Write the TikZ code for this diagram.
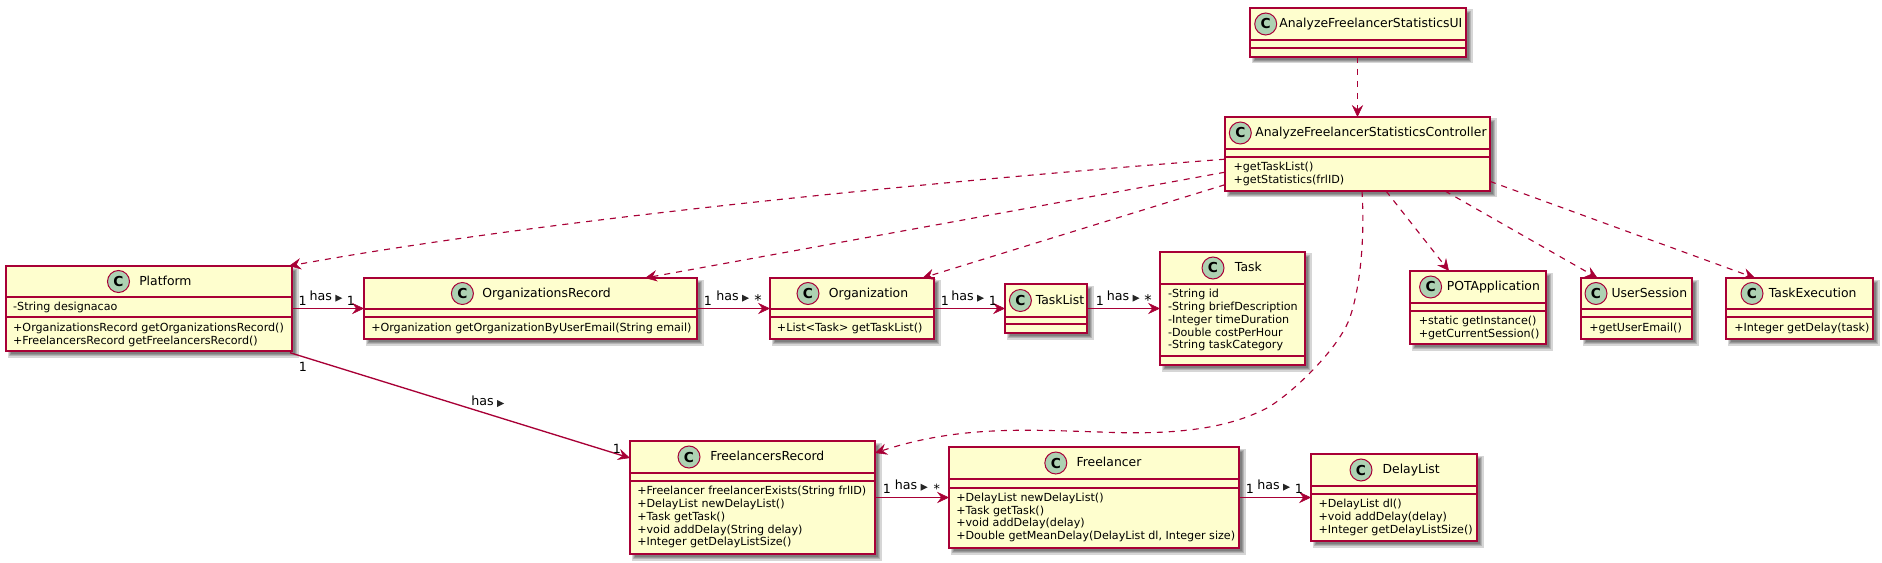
\documentclass[tikz,border=0pt]{standalone}
\usepackage{fontspec}
\setmainfont{DejaVu Sans}
\usetikzlibrary{arrows.meta,calc}
\definecolor{umlborder}{HTML}{A80036}
\definecolor{umlfill}{HTML}{FEFECE}
\definecolor{umlcirc}{HTML}{ADD1B2}
\tikzset{
  x=0.75pt,y=-0.75pt,
  umlhead/.tip={Stealth[length=9pt,width=8.5pt,inset=3.2pt,fill=umlborder,line width=0.4pt,sep=0pt]},
  classbox/.style={draw=umlborder,fill=umlfill,line width=1.2pt,inner sep=0pt,outer sep=0pt},
  classline/.style={draw=umlborder,line width=1.2pt},
  shadowlayer/.style={fill=black,fill opacity=0.16,draw=none},
  circ/.style={circle,draw=umlborder,fill=umlcirc,line width=0.75pt,minimum size=16.5pt,inner sep=0pt,font=\fontsize{10.3pt}{12pt}\bfseries},
  ctitle/.style={anchor=west,inner sep=0pt,font=\fontsize{9.3pt}{11pt}\selectfont,text height=7.5pt,text depth=1.9pt},
  member/.style={anchor=west,inner sep=0pt,font=\fontsize{8.35pt}{10pt}\selectfont,text height=6.6pt,text depth=1.7pt},
  lab/.style={anchor=west,inner sep=0pt,font=\fontsize{9.5pt}{11pt}\selectfont,text height=7pt,text depth=1.9pt},
  mult/.style={anchor=center,inner sep=0pt,font=\fontsize{9.5pt}{11pt}\selectfont,text height=7pt,text depth=0pt},
  dep/.style={draw=umlborder,line width=0.85pt,dash pattern=on 4.5pt off 4.5pt,-umlhead},
  assoc/.style={draw=umlborder,line width=1pt,-umlhead},
}
\newcommand{\ClassBox}[9]{%
  \foreach \g in {2.5,1.2,0,-1.2}{%
    \fill[shadowlayer] (#2+4-\g,#3+4-\g) rectangle (#4+4+\g,#5+4+\g);}
  \pgfmathsetlengthmacro{\bw}{(#4-#2)*0.75}%
  \pgfmathsetlengthmacro{\bh}{(#5-#3)*0.75}%
  \node[classbox,minimum width=\bw,minimum height=\bh] (#1) at ({(#2+#4)/2},{(#3+#5)/2}) {};
  \draw[classline] (#2,#6) -- (#4,#6);
  \draw[classline] (#2,#7) -- (#4,#7);
  \node[circ] (#1-c) at (#8,{(#3+#6)/2}) {C};
  \node[ctitle] (#1-t) at (#9,{(#3+#6)/2}) 
}
\newcommand{\HasLab}[3]{%
  \node[lab] (#1) at (#2,#3) {has};
  \fill[black!85] (#2+26,#3-2) -- (#2+33,#3+1.5) -- (#2+26,#3+5) -- cycle;
}
\newcommand{\Mult}[4]{\node[mult] (#1) at (#2,#3) {#4};}
\begin{document}
\begin{tikzpicture}
\useasboundingbox (0,0) rectangle (1882,563);

\ClassBox{ui}{1250}{8}{1466}{57}{40}{48}{1265.7}{1279}{AnalyzeFreelancerStatisticsUI};
\ClassBox{ctrl}{1225}{117}{1490}{191}{149}{157}{1240.3}{1255}{AnalyzeFreelancerStatisticsController};
\node[member] (ctrl-m1) at (1233.3,167) {+getTaskList()};
\node[member] (ctrl-m2) at (1233.3,180) {+getStatistics(frlID)};

\ClassBox{plat}{6}{266}{292}{351}{297}{317}{118.5}{139}{Platform};
\node[member] (plat-m1) at (12.9,307.3) {-String designacao};
\node[member] (plat-m2) at (12.9,328.3) {+OrganizationsRecord getOrganizationsRecord()};
\node[member] (plat-m3) at (12.9,341) {+FreelancersRecord getFreelancersRecord()};

\ClassBox{orec}{364}{278}{697}{339}{309}{317}{462.4}{482}{OrganizationsRecord};
\node[member] (orec-m1) at (371,328.3) {+Organization getOrganizationByUserEmail(String email)};

\ClassBox{org}{770}{278}{934}{339}{309}{317}{808}{828.6}{Organization};
\node[member] (org-m1) at (776.7,328.3) {+List<Task> getTaskList()};

\ClassBox{tlist}{1005}{284}{1087}{333}{317}{324}{1020.4}{1035.5}{TaskList};

\ClassBox{task}{1160}{252}{1305}{365}{284}{356}{1213}{1234.7}{Task};
\node[member] (task-m1) at (1167.8,294.3) {-String id};
\node[member] (task-m2) at (1167.8,307.3) {-String briefDescription};
\node[member] (task-m3) at (1167.8,320.3) {-Integer timeDuration};
\node[member] (task-m4) at (1167.8,333.3) {-Double costPerHour};
\node[member] (task-m5) at (1167.8,345.3) {-String taskCategory};

\ClassBox{pot}{1410}{271}{1546}{344}{303}{311}{1430.6}{1446.5}{POTApplication};
\node[member] (pot-m1) at (1418.5,321.3) {+static getInstance()};
\node[member] (pot-m2) at (1418.5,334) {+getCurrentSession()};

\ClassBox{us}{1581}{278}{1692}{339}{309}{317}{1596}{1611.3}{UserSession};
\node[member] (us-m1) at (1589,328) {+getUserEmail()};

\ClassBox{te}{1726}{278}{1873}{339}{309}{317}{1752}{1768.6}{TaskExecution};
\node[member] (te-m1) at (1734,328) {+Integer getDelay(task)};

\ClassBox{frec}{630}{441}{875}{554}{473}{481}{689}{710}{FreelancersRecord};
\node[member] (frec-m1) at (637,491) {+Freelancer freelancerExists(String frlID)};
\node[member] (frec-m2) at (637,504) {+DelayList newDelayList()};
\node[member] (frec-m3) at (637,517) {+Task getTask()};
\node[member] (frec-m4) at (637,530) {+void addDelay(String delay)};
\node[member] (frec-m5) at (637,542.3) {+Integer getDelayListSize()};

\ClassBox{fr}{949}{447}{1239}{548}{479}{488}{1055.8}{1076.4}{Freelancer};
\node[member] (fr-m1) at (956,498.3) {+DelayList newDelayList()};
\node[member] (fr-m2) at (956,511) {+Task getTask()};
\node[member] (fr-m3) at (956,523.7) {+void addDelay(delay)};
\node[member] (fr-m4) at (956,536.3) {+Double getMeanDelay(DelayList dl, Integer size)};

\ClassBox{dl}{1311}{454}{1477}{541}{486}{494}{1361}{1382.3}{DelayList};
\node[member] (dl-m1) at (1318.3,504) {+DelayList dl()};
\node[member] (dl-m2) at (1318.3,517) {+void addDelay(delay)};
\node[member] (dl-m3) at (1318.3,530) {+Integer getDelayListSize()};

% dependencies
\draw[dep] ($(ui.south)+(-0.5,0)$) -- ($(ui.south |- ctrl.north)+(-0.5,0)$);
\draw[dep] ($(ctrl.north west)+(0,42.2)$) .. controls (900,184) and (530,222) .. ($(plat.north east)+(-3,0)$);
\draw[dep] ($(ctrl.north west)+(0,55.2)$) -- ($(orec.north west)+(281,0)$);
\draw[dep] ($(ctrl.north west)+(0,67.7)$) -- ($(org.north west)+(152.4,0)$);
\draw[dep] ($(ctrl.south west)+(137,0)$) .. controls (1365,240) and (1360,290) .. (1349,320)
  .. controls (1336,352) and (1290,395) .. (1267,408)
  .. controls (1225,430) and (1170,435) .. (1100,432)
  .. controls (1030,430) and (960,425) .. ($(frec.north east)+(0,12)$);
\draw[dep] ($(ctrl.south west)+(161,0)$) -- ($(pot.north west)+(39,0)$);
\draw[dep] ($(ctrl.south west)+(220,0)$) -- ($(us.north west)+(16.5,0)$);
\draw[dep] ($(ctrl.north east)+(0,64.4)$) -- ($(te.north west)+(29,0)$);

% associations
\draw[assoc] (plat.east) -- (plat.east -| orec.west);
\draw[assoc] (orec.east) -- (orec.east -| org.west);
\draw[assoc] (org.east) -- (org.east -| tlist.west);
\draw[assoc] (tlist.east) -- (tlist.east -| task.west);
\draw[assoc] (frec.east) -- (frec.east -| fr.west);
\draw[assoc] (fr.east) -- (fr.east -| dl.west);
\draw[assoc] ($(plat.south east)+(-2,1.7)$) -- ($(frec.north west)+(0,17)$);

% labels
\Mult{m1}{302.7}{300.5}{1} \HasLab{h1}{309.3}{296.7} \Mult{m2}{351}{300.5}{1}
\Mult{m3}{708}{300.5}{1} \HasLab{h2}{716}{296.7} \Mult{m4}{758}{300.5}{\fontsize{11pt}{11pt}\selectfont *}
\Mult{m5}{945}{300.5}{1} \HasLab{h3}{951}{296.7} \Mult{m6}{993}{300.5}{1}
\Mult{m7}{1100}{300.5}{1} \HasLab{h4}{1106.5}{296.7} \Mult{m8}{1148}{300.5}{\fontsize{11pt}{11pt}\selectfont *}
\Mult{m9}{887}{489}{1} \HasLab{h5}{894.6}{485.7} \Mult{m10}{936.7}{489}{*}
\Mult{m11}{1250}{489}{1} \HasLab{h6}{1257}{485.7} \Mult{m12}{1299}{489}{1}
\Mult{m13}{303}{366.5}{1} \HasLab{h7}{471}{402} \Mult{m14}{617}{449}{1}
\end{tikzpicture}
\end{document}
